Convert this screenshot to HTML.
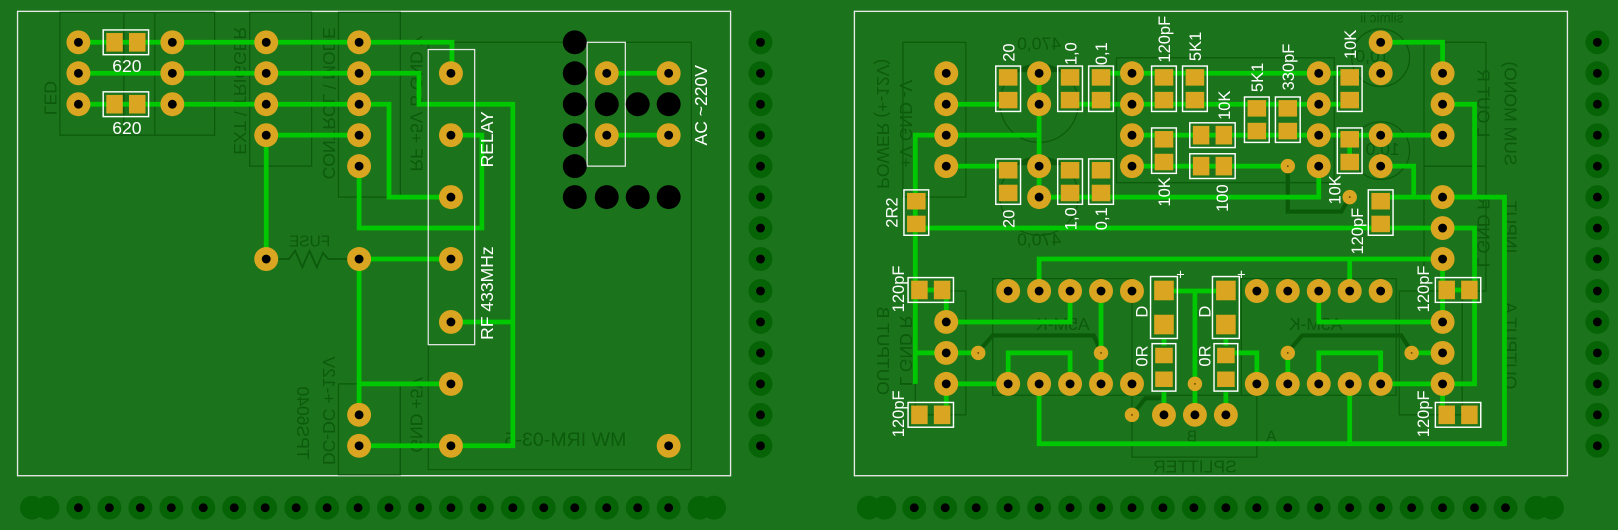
<!DOCTYPE html>
<html><head><meta charset="utf-8"><style>
html,body{margin:0;padding:0;background:#1b741b;}
svg{display:block;}
text{font-family:"Liberation Sans",sans-serif;}
</style></head><body>
<svg width="1618" height="530" viewBox="0 0 1568 513.6" preserveAspectRatio="none" xmlns="http://www.w3.org/2000/svg">
<defs>
<g id="p"><circle r="11.6" fill="#daa520"/><circle r="4.3" fill="#000"/></g>
<g id="h"><circle r="11.6" fill="#066406"/><circle r="4.3" fill="#000"/></g>
<g id="hd"><circle r="11.6" fill="#066406"/></g>
<g id="b"><circle r="11.6" fill="#000"/></g>
<g id="v"><circle r="7" fill="#daa520"/><circle r="0.9" fill="#6a4a00"/></g>
<g id="sv"><rect x="-12" y="-22" width="24" height="44" fill="none" stroke="#fff" stroke-width="1.4"/><rect x="-9" y="-19" width="18" height="16" fill="#daa520"/><rect x="-9" y="3" width="18" height="16" fill="#daa520"/></g>
<g id="sh"><rect x="-22" y="-12" width="44" height="24" fill="none" stroke="#fff" stroke-width="1.4"/><rect x="-19" y="-9" width="16" height="18" fill="#daa520"/><rect x="3" y="-9" width="16" height="18" fill="#daa520"/></g>
<g id="sd"><rect x="-13" y="-30" width="26" height="60" fill="none" stroke="#fff" stroke-width="1.4"/><rect x="-9.5" y="-26" width="19" height="19" fill="#daa520"/><rect x="-9.5" y="7" width="19" height="19" fill="#daa520"/></g>
<g id="s0"><rect x="-11.5" y="-23" width="23" height="46" fill="none" stroke="#fff" stroke-width="1.4"/><rect x="-8.5" y="-19" width="17" height="15" fill="#daa520"/><rect x="-8.5" y="4" width="17" height="15" fill="#daa520"/></g>
</defs>
<rect x="0" y="0" width="1568" height="514" fill="#1b741b"/>

<!-- board outlines -->
<rect x="17" y="11" width="691" height="450" fill="none" stroke="#e8e8e8" stroke-width="1.3"/>
<rect x="828" y="11" width="691" height="450" fill="none" stroke="#e8e8e8" stroke-width="1.3"/>

<!-- dark silkscreen LEFT -->
<g fill="none" stroke="#0c5a0c" stroke-width="1.2">
<rect x="58" y="12" width="150" height="119"/><line x1="120" y1="12" x2="120" y2="131"/><line x1="150" y1="12" x2="150" y2="131"/>
<rect x="242" y="12" width="60" height="149"/>
<rect x="328" y="12" width="60" height="179"/>
<rect x="415" y="41" width="255" height="414"/>
<rect x="328" y="372" width="60" height="88"/>
<line x1="388" y1="372" x2="388" y2="460"/>
<path d="M270,251 H280 L286,243 L293,259 L300,243 L307,259 L313,245 L318,251 H337" stroke-width="1.8"/>
</g>
<g fill="#0c5a0c" font-size="17">
<text transform="translate(43,95) rotate(90) scale(-1,1)" text-anchor="middle">LED</text>
<text transform="translate(227,88) rotate(90) scale(-1,1)" text-anchor="middle">EXT \ TRIGGER</text>
<text transform="translate(313,100) rotate(90) scale(-1,1)" text-anchor="middle">CONTROL \ MODE</text>
<text transform="translate(398,100) rotate(90) scale(-1,1)" text-anchor="middle">RF +5V  B GND  Y</text>
<text transform="translate(313,398) rotate(90) scale(-1,1)" text-anchor="middle">DC-DC +-12V</text>
<text transform="translate(288,410) rotate(90) scale(-1,1)" text-anchor="middle">TPS6040</text>
<text transform="translate(398,402) rotate(90) scale(-1,1)" text-anchor="middle">GND +5V</text>
<text transform="translate(548,432) scale(-1,1)" text-anchor="middle" font-size="19">MW IRM-03-5</text>
<text transform="translate(300,239) scale(-1,1)" text-anchor="middle" font-size="15">FUSE</text>
</g>

<!-- traces LEFT -->
<g fill="none" stroke="#00c800" stroke-width="4.6" stroke-linejoin="miter">
<path d="M76,41 H438 V71"/>
<path d="M76,71 H406 V101 H497 V432 H348"/>
<path d="M437,312 H497"/>
<path d="M76,101 H377 V191 H437"/>
<path d="M258,131 H348 M258,131 V251"/>
<path d="M437,131 H467 V221 H348 V161"/>
<path d="M348,251 H437 M348,251 V402 M348,372 H437"/>
<path d="M588,71 H648 M588,131 H648"/>
</g>

<!-- left components -->
<use href="#sh" x="122" y="41"/><use href="#sh" x="122" y="101"/>
<g fill="#fff" font-size="17" text-anchor="middle">
<text x="123" y="70">620</text><text x="123" y="130">620</text>
</g>
<g>
<use href="#p" x="76" y="41"/><use href="#p" x="76" y="71"/><use href="#p" x="76" y="101"/>
<use href="#p" x="167" y="41"/><use href="#p" x="167" y="71"/><use href="#p" x="167" y="101"/>
<use href="#p" x="258" y="41"/><use href="#p" x="258" y="71"/><use href="#p" x="258" y="101"/><use href="#p" x="258" y="131"/><use href="#p" x="258" y="251"/>
<use href="#p" x="348" y="41"/><use href="#p" x="348" y="71"/><use href="#p" x="348" y="101"/><use href="#p" x="348" y="131"/><use href="#p" x="348" y="161"/><use href="#p" x="348" y="251"/><use href="#p" x="348" y="402"/><use href="#p" x="348" y="432"/>
<use href="#p" x="437" y="71"/><use href="#p" x="437" y="131"/><use href="#p" x="437" y="191"/><use href="#p" x="437" y="251"/><use href="#p" x="437" y="312"/><use href="#p" x="437" y="372"/><use href="#p" x="437" y="432"/>
<use href="#p" x="648" y="432"/>
</g>
<rect x="415" y="48" width="45" height="286" fill="none" stroke="#e8e8e8" stroke-width="1.2"/>
<rect x="569" y="41" width="37" height="120" fill="none" stroke="#e8e8e8" stroke-width="1.2"/>
<g>
<use href="#b" x="557" y="41"/><use href="#b" x="557" y="71"/><use href="#b" x="557" y="101"/><use href="#b" x="557" y="131"/><use href="#b" x="557" y="161"/><use href="#b" x="557" y="191"/>
<use href="#b" x="588" y="101"/><use href="#b" x="588" y="191"/><use href="#b" x="618" y="101"/><use href="#b" x="618" y="191"/><use href="#b" x="648" y="101"/><use href="#b" x="648" y="191"/>
<use href="#p" x="588" y="71"/><use href="#p" x="588" y="131"/><use href="#p" x="648" y="71"/><use href="#p" x="648" y="131"/>
</g>
<g fill="#fff" font-size="17" text-anchor="middle">
<text transform="translate(478,135) rotate(-90)">RELAY</text>
<text transform="translate(478,284) rotate(-90)">RF  433MHz</text>
<text transform="translate(685,102) rotate(-90)">AC ~220V</text>
</g>

<!-- dark silkscreen RIGHT -->
<g fill="none" stroke="#0c5a0c" stroke-width="1.2">
<rect x="875" y="41" width="61" height="150"/>
<rect x="887" y="282" width="49" height="120"/>
<rect x="962" y="270" width="135" height="113"/>
<rect x="1203" y="270" width="150" height="113"/>
<rect x="1097" y="383" width="121" height="60"/>
<rect x="1380" y="41" width="60" height="120"/>
<rect x="1380" y="161" width="60" height="121"/>
<rect x="1356" y="282" width="61" height="120"/>
<rect x="1082" y="56" width="211" height="121"/>
<circle cx="1007" cy="100" r="38"/><circle cx="1007" cy="190" r="38"/>
<circle cx="1338" cy="56" r="28"/><circle cx="1338" cy="146" r="28"/>
</g>
<path d="M983,70 A38,38 0 0 1 1031,70 Z" fill="#0c5a0c"/>
<path d="M983,160 A38,38 0 0 1 1031,160 Z" fill="#0c5a0c"/>
<g fill="#0c5a0c" font-size="17">
<text transform="translate(850,120) rotate(90) scale(-1,1)" text-anchor="middle">POWER (+-12V)</text>
<text transform="translate(872,120) rotate(90) scale(-1,1)" text-anchor="middle">+V  GND  -V</text>
<text transform="translate(850,340) rotate(90) scale(-1,1)" text-anchor="middle">OUTPUT B</text>
<text transform="translate(872,340) rotate(90) scale(-1,1)" text-anchor="middle">L  GND  R</text>
<text transform="translate(1458,110) rotate(90) scale(-1,1)" text-anchor="middle">SUM MONO)</text>
<text transform="translate(1432,100) rotate(90) scale(-1,1)" text-anchor="middle">L  OUT  R</text>
<text transform="translate(1458,220) rotate(90) scale(-1,1)" text-anchor="middle">INPUT</text>
<text transform="translate(1432,225) rotate(90) scale(-1,1)" text-anchor="middle">L GND R</text>
<text transform="translate(1458,335) rotate(90) scale(-1,1)" text-anchor="middle">OUTPUT A</text>
<text transform="translate(1030,320) scale(-1,1)" text-anchor="middle">A5M-K</text>
<text transform="translate(1275,320) scale(-1,1)" text-anchor="middle">A5M-K</text>
<text transform="translate(1158,458) scale(-1,1)" text-anchor="middle">SPLITTER</text>
<text transform="translate(1007,48) scale(-1,1)" text-anchor="middle">470,0</text>
<text transform="translate(1007,238) scale(-1,1)" text-anchor="middle">470,0</text>
<text transform="translate(1330,60) scale(-1,1)" text-anchor="middle">10,0</text>
<text transform="translate(1340,150) scale(-1,1)" text-anchor="middle">10,0</text>
<text transform="translate(1160,428) scale(-1,1)" font-size="15">B</text>
<text transform="translate(1237,428) scale(-1,1)" font-size="15">A</text>
<text transform="translate(1360,22) scale(-1,1)" font-size="13">silmic ii</text>
</g>
<g fill="none" stroke="#0a5a0a" stroke-width="4">
<path d="M1248,161 V205 H1300 L1308,191"/>
<path d="M948,341 L962,325 H1060 L1067,341"/>
<path d="M1248,341 L1262,325 H1358 L1368,341"/>
<path d="M1097,402 L1110,386 H1125"/>
</g>

<!-- traces RIGHT -->
<g fill="none" stroke="#00c800" stroke-width="4.6">
<path d="M917,101 H977"/>
<path d="M887,372 V131 H1007"/>
<path d="M1007,71 V191 H1278 V161"/>
<path d="M917,161 H977"/>
<path d="M1067,71 H1308"/>
<path d="M1037,101 H1308"/>
<path d="M1097,131 H1338"/>
<path d="M1097,161 H1248"/>
<path d="M1308,131 V161"/>
<path d="M1338,131 H1398"/>
<path d="M887,221 H1429 V372 H1398"/>
<path d="M1398,101 H1429 V191 H1338 M1370,191 V161 H1338"/>
<path d="M1338,41 H1398 V71"/>
<path d="M1007,282 V251 H1398 V312 M1308,251 V282"/>
<path d="M1398,191 H1458 V430 H1007 V372 M1308,430 V372"/>
<path d="M887,342 H948"/>
<path d="M917,282 V312 H1037 V282"/>
<path d="M1278,282 V312 H1398"/>
<path d="M917,372 H977 M917,372 V402"/>
<path d="M1338,372 H1398 M1398,372 V402"/>
<path d="M977,372 V342 H1037 V372"/>
<path d="M1278,372 V342 H1338 V372"/>
<path d="M1067,282 V372"/>
<path d="M1248,342 V372"/>
<path d="M1368,342 H1398"/>
<path d="M1128,282 H1188 M1158,282 V402"/>
<path d="M1188,342 H1218 V372"/>
<path d="M1128,380 V402 M1188,380 V402 M1128,328 V335 M1188,328 V335"/>
<path d="M887,281 H917 M1398,281 H1429"/>
</g>

<!-- right SMD parts -->
<use href="#sv" x="977" y="86"/><use href="#sv" x="1037" y="86"/><use href="#sv" x="1067" y="86"/>
<use href="#sv" x="1128" y="86"/><use href="#sv" x="1158" y="86"/><use href="#sv" x="1308" y="86"/>
<use href="#sv" x="977" y="176"/><use href="#sv" x="1037" y="176"/><use href="#sv" x="1067" y="176"/>
<use href="#sv" x="1128" y="146"/><use href="#sv" x="1218" y="116"/><use href="#sv" x="1248" y="116"/>
<use href="#sv" x="1308" y="146"/><use href="#sv" x="888" y="206"/><use href="#sv" x="1338" y="206"/>
<use href="#sh" x="1175" y="131"/><use href="#sh" x="1175" y="161"/>
<use href="#sh" x="902" y="281"/><use href="#sh" x="902" y="402"/>
<use href="#sh" x="1413" y="281"/><use href="#sh" x="1413" y="402"/>
<use href="#sd" x="1128" y="298"/><use href="#sd" x="1188" y="298"/>
<use href="#s0" x="1128" y="356"/><use href="#s0" x="1188" y="356"/>

<!-- right pads -->
<g>
<use href="#p" x="917" y="71"/><use href="#p" x="917" y="101"/><use href="#p" x="917" y="131"/><use href="#p" x="917" y="161"/>
<use href="#p" x="917" y="312"/><use href="#p" x="917" y="342"/><use href="#p" x="917" y="372"/>
<use href="#p" x="1007" y="71"/><use href="#p" x="1007" y="101"/><use href="#p" x="1007" y="161"/><use href="#p" x="1007" y="191"/>
<use href="#p" x="1097" y="71"/><use href="#p" x="1097" y="101"/><use href="#p" x="1097" y="131"/><use href="#p" x="1097" y="161"/>
<use href="#p" x="1278" y="71"/><use href="#p" x="1278" y="101"/><use href="#p" x="1278" y="131"/><use href="#p" x="1278" y="161"/>
<use href="#p" x="1338" y="41"/><use href="#p" x="1338" y="71"/><use href="#p" x="1338" y="131"/><use href="#p" x="1338" y="161"/>
<use href="#p" x="1398" y="71"/><use href="#p" x="1398" y="101"/><use href="#p" x="1398" y="131"/>
<use href="#p" x="1398" y="191"/><use href="#p" x="1398" y="221"/><use href="#p" x="1398" y="251"/>
<use href="#p" x="1398" y="312"/><use href="#p" x="1398" y="342"/><use href="#p" x="1398" y="372"/>
<use href="#p" x="977" y="282"/><use href="#p" x="1007" y="282"/><use href="#p" x="1037" y="282"/><use href="#p" x="1067" y="282"/><use href="#p" x="1097" y="282"/>
<use href="#p" x="1218" y="282"/><use href="#p" x="1248" y="282"/><use href="#p" x="1278" y="282"/><use href="#p" x="1308" y="282"/><use href="#p" x="1338" y="282"/>
<use href="#p" x="977" y="372"/><use href="#p" x="1007" y="372"/><use href="#p" x="1037" y="372"/><use href="#p" x="1067" y="372"/><use href="#p" x="1097" y="372"/>
<use href="#p" x="1218" y="372"/><use href="#p" x="1248" y="372"/><use href="#p" x="1278" y="372"/><use href="#p" x="1308" y="372"/><use href="#p" x="1338" y="372"/>
<use href="#p" x="1128" y="402"/><use href="#p" x="1158" y="402"/><use href="#p" x="1188" y="402"/>
<use href="#v" x="1248" y="161"/><use href="#v" x="1308" y="191"/><use href="#v" x="948" y="342"/><use href="#v" x="1067" y="342"/>
<use href="#v" x="1158" y="372"/><use href="#v" x="1097" y="402"/><use href="#v" x="1248" y="342"/><use href="#v" x="1368" y="342"/>
</g>

<!-- right labels -->
<g fill="#fff" font-size="16" text-anchor="middle">
<text transform="translate(983,51) rotate(-90)">20</text>
<text transform="translate(1043,52) rotate(-90)">1,0</text>
<text transform="translate(1073,52) rotate(-90)">0,1</text>
<text transform="translate(1134,38) rotate(-90)">120pF</text>
<text transform="translate(1164,45) rotate(-90)">5K1</text>
<text transform="translate(1314,43) rotate(-90)">10K</text>
<text transform="translate(1224,75) rotate(-90)">5K1</text>
<text transform="translate(1254,65) rotate(-90)">330pF</text>
<text transform="translate(1192,102) rotate(-90)">10K</text>
<text transform="translate(983,212) rotate(-90)">20</text>
<text transform="translate(1043,212) rotate(-90)">1,0</text>
<text transform="translate(1073,212) rotate(-90)">0,1</text>
<text transform="translate(1134,186) rotate(-90)">10K</text>
<text transform="translate(1190,192) rotate(-90)">100</text>
<text transform="translate(1299,184) rotate(-90)">10K</text>
<text transform="translate(1321,224) rotate(-90)">120pF</text>
<text transform="translate(870,206) rotate(-90)">2R2</text>
<text transform="translate(876,280) rotate(-90)">120pF</text>
<text transform="translate(876,401) rotate(-90)">120pF</text>
<text transform="translate(1385,280) rotate(-90)">120pF</text>
<text transform="translate(1385,401) rotate(-90)">120pF</text>
<text transform="translate(1112,302) rotate(-90)">D</text>
<text transform="translate(1173,302) rotate(-90)">D</text>
<text transform="translate(1112,345) rotate(-90)">0R</text>
<text transform="translate(1173,345) rotate(-90)">0R</text>
<text x="1144" y="271" font-size="14">+</text>
<text x="1203" y="271" font-size="14">+</text>
</g>

<!-- hole columns / rows -->
<g>
<use href="#hd" x="31" y="492"/><use href="#hd" x="46" y="492"/>
<use href="#h" x="76" y="492"/><use href="#h" x="106" y="492"/><use href="#h" x="136" y="492"/><use href="#h" x="166" y="492"/><use href="#h" x="197" y="492"/>
<use href="#h" x="227" y="492"/><use href="#h" x="257" y="492"/><use href="#h" x="287" y="492"/><use href="#h" x="317" y="492"/><use href="#h" x="347" y="492"/>
<use href="#h" x="377" y="492"/><use href="#h" x="407" y="492"/><use href="#h" x="437" y="492"/><use href="#h" x="467" y="492"/><use href="#h" x="497" y="492"/>
<use href="#h" x="527" y="492"/><use href="#h" x="557" y="492"/><use href="#h" x="588" y="492"/><use href="#h" x="618" y="492"/><use href="#h" x="648" y="492"/>
<use href="#hd" x="678" y="492"/><use href="#hd" x="692" y="492"/>
<use href="#hd" x="842" y="492"/><use href="#hd" x="857" y="492"/>
<use href="#h" x="886" y="492"/><use href="#h" x="916" y="492"/><use href="#h" x="946" y="492"/><use href="#h" x="977" y="492"/><use href="#h" x="1007" y="492"/>
<use href="#h" x="1037" y="492"/><use href="#h" x="1067" y="492"/><use href="#h" x="1097" y="492"/><use href="#h" x="1127" y="492"/><use href="#h" x="1157" y="492"/>
<use href="#h" x="1188" y="492"/><use href="#h" x="1218" y="492"/><use href="#h" x="1248" y="492"/><use href="#h" x="1278" y="492"/><use href="#h" x="1308" y="492"/>
<use href="#h" x="1338" y="492"/><use href="#h" x="1368" y="492"/><use href="#h" x="1398" y="492"/><use href="#h" x="1429" y="492"/><use href="#h" x="1459" y="492"/>
<use href="#hd" x="1489" y="492"/><use href="#hd" x="1504" y="492"/>

<use href="#h" x="737" y="41"/><use href="#h" x="737" y="71"/><use href="#h" x="737" y="101"/><use href="#h" x="737" y="131"/><use href="#h" x="737" y="161"/>
<use href="#h" x="737" y="191"/><use href="#h" x="737" y="221"/><use href="#h" x="737" y="251"/><use href="#h" x="737" y="282"/><use href="#h" x="737" y="312"/>
<use href="#h" x="737" y="342"/><use href="#h" x="737" y="372"/><use href="#h" x="737" y="402"/><use href="#h" x="737" y="432"/>
<use href="#h" x="1548" y="41"/><use href="#h" x="1548" y="71"/><use href="#h" x="1548" y="101"/><use href="#h" x="1548" y="131"/><use href="#h" x="1548" y="161"/>
<use href="#h" x="1548" y="191"/><use href="#h" x="1548" y="221"/><use href="#h" x="1548" y="251"/><use href="#h" x="1548" y="282"/><use href="#h" x="1548" y="312"/>
<use href="#h" x="1548" y="342"/><use href="#h" x="1548" y="372"/><use href="#h" x="1548" y="402"/><use href="#h" x="1548" y="432"/>
</g>
</svg>
</body></html>
